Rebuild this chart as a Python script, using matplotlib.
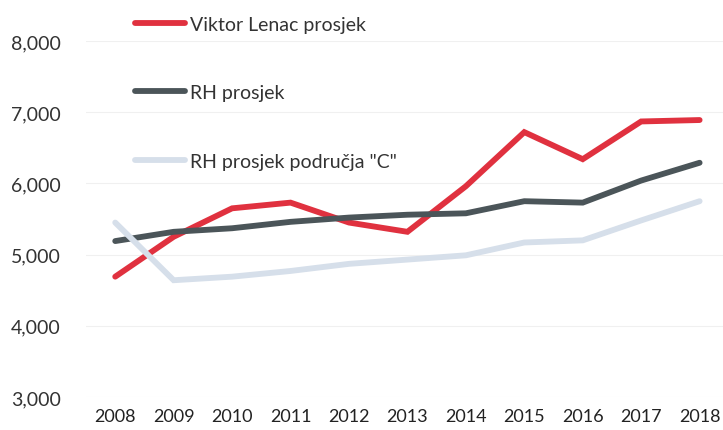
import matplotlib.pyplot as plt
from matplotlib.ticker import FuncFormatter

years = ['2008', '2009', '2010', '2011', '2012', '2013', '2014', '2015', '2016', '2017', '2018']
viktor_lenac = [4690, 5250, 5650, 5730, 5450, 5320, 5960, 6720, 6340, 6870, 6890]
rh_prosjek = [5190, 5320, 5370, 5460, 5520, 5560, 5580, 5750, 5730, 6040, 6290]
rh_podrucje_c = [5450, 4640, 4690, 4770, 4870, 4930, 4990, 5170, 5200, 5480, 5750]

labels = ['Viktor Lenac prosjek', 'RH prosjek', 'RH prosjek područja "C"']
colors = ['#E0313F', '#4B5559', '#D6DFEA']

plt.rcParams['font.family'] = ['Lato', 'DejaVu Sans']

fig = plt.figure(figsize=(7.23, 4.31), dpi=100)
ax = fig.add_axes([86 / 723, 1 - 398 / 431, 1 - 86 / 723, (398 - 42) / 431])

x = range(len(years))
handles = []
for vals, lab, col in zip([viktor_lenac, rh_prosjek, rh_podrucje_c], labels, colors):
    h, = ax.plot(x, vals, color=col, lw=4.2, label=lab, solid_capstyle='round', solid_joinstyle='miter')
    handles.append(h)

ax.set_xlim(-0.5, 10.4)
ax.set_ylim(3000, 8000)
ax.set_yticks(range(3000, 8001, 1000))
ax.yaxis.set_major_formatter(FuncFormatter(lambda v, p: f'{int(v):,}'))
ax.set_xticks(list(x))
ax.set_xticklabels(years)
ax.tick_params(axis='y', labelsize=14, length=0, pad=18, colors='#333333')
ax.tick_params(axis='x', labelsize=13, length=0, pad=8, colors='#222222')
ax.grid(axis='y', color='#F0F0F0', lw=0.8)
ax.set_axisbelow(True)
for s in ax.spines.values():
    s.set_visible(False)

fig.legend(handles=handles, loc='upper left', bbox_to_anchor=(117 / 723, 1 + 1 / 431),
           frameon=False, fontsize=14, labelspacing=2.65, handlelength=2.6,
           handletextpad=0.25, labelcolor='#333333')

fig.savefig('out.png', dpi=100)
